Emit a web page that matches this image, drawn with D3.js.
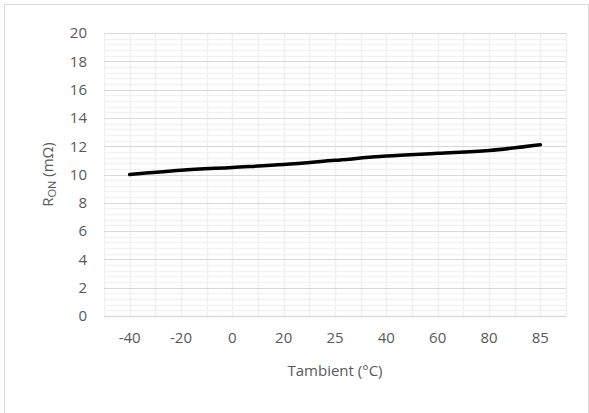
<!DOCTYPE html>
<html>
<head>
<meta charset="utf-8">
<script src="https://cdn.jsdelivr.net/npm/d3@7"></script>
<style>
  body { margin: 0; background: #fff; }
  text { font-family: "Open Sans", sans-serif; fill: #595959; }
</style>
</head>
<body>
<div class="chart"></div>
<script>
var svgWidth = 589;
var svgHeight = 413;

// data
var temps = ["-40", "-20", "0", "20", "25", "40", "60", "80", "85"];
var ron = [10.0, 10.3, 10.5, 10.7, 11.0, 11.3, 11.5, 11.7, 12.1];
var yTicks = [0, 2, 4, 6, 8, 10, 12, 14, 16, 18, 20];

var margin = { top: 33, right: 23, bottom: 97, left: 104 };
var width = svgWidth - margin.left - margin.right;
var height = svgHeight - margin.top - margin.bottom;

var svg = d3.select(".chart")
    .append("svg")
    .attr("width", svgWidth)
    .attr("height", svgHeight);

// outer chart border
svg.append("rect")
    .attr("x", 4.5).attr("y", 4.5)
    .attr("width", 584).attr("height", 430)
    .attr("fill", "none")
    .attr("stroke", "#d9d9d9");

var chartGroup = svg.append("g")
    .attr("transform", `translate(${margin.left}, ${margin.top})`);

var xScale = d3.scaleBand().domain(temps).range([0, width]);
var yScale = d3.scaleLinear().domain([0, 20]).range([height, 0]);

// minor horizontal gridlines (every 0.4)
var minorY = d3.range(0, 20.01, 0.4).filter(v => Math.abs(v / 2 - Math.round(v / 2)) > 0.01);
chartGroup.selectAll(".minor-y")
    .data(minorY)
    .join("line")
    .attr("x1", 0).attr("x2", width)
    .attr("y1", d => Math.round(yScale(d)) + 0.5)
    .attr("y2", d => Math.round(yScale(d)) + 0.5)
    .attr("stroke", "#f2f2f2").attr("stroke-width", 1.5);

// vertical gridlines at category edges and centers
var vLines = [];
temps.forEach(t => { vLines.push(xScale(t)); vLines.push(xScale(t) + xScale.bandwidth() / 2); });
vLines.push(width);
chartGroup.selectAll(".grid-x")
    .data(vLines)
    .join("line")
    .attr("x1", d => Math.round(d) + 0.5).attr("x2", d => Math.round(d) + 0.5)
    .attr("y1", 0).attr("y2", height)
    .attr("stroke", "#f0f0f0").attr("stroke-width", 1.5);

// major horizontal gridlines
chartGroup.selectAll(".major-y")
    .data(yTicks)
    .join("line")
    .attr("x1", 0).attr("x2", width)
    .attr("y1", d => Math.round(yScale(d)) + 0.5)
    .attr("y2", d => Math.round(yScale(d)) + 0.5)
    .attr("stroke", "#d9d9d9").attr("stroke-width", 1.2);

// y axis labels
var leftAxis = d3.axisLeft(yScale).tickValues(yTicks).tickSize(0).tickPadding(17);
var yAxis = chartGroup.append("g").call(leftAxis);
yAxis.select(".domain").remove();
yAxis.selectAll("text").attr("font-size", "15px").attr("fill", "#595959");

// x axis labels
var bottomAxis = d3.axisBottom(xScale).tickSize(0).tickPadding(16);
var xAxis = chartGroup.append("g")
    .attr("transform", `translate(0,${height})`)
    .call(bottomAxis);
xAxis.select(".domain").attr("stroke", "#d9d9d9").attr("stroke-width", 1.5);
xAxis.selectAll("text").attr("font-size", "15px").attr("fill", "#595959");

// the line
var line = d3.line()
    .x((d, i) => xScale(temps[i]) + xScale.bandwidth() / 2)
    .y(d => yScale(d))
    .curve(d3.curveMonotoneX);

chartGroup.append("path")
    .datum(ron)
    .attr("d", line)
    .attr("fill", "none")
    .attr("stroke", "#000")
    .attr("stroke-width", 3.5)
    .attr("stroke-linecap", "round");

// axis titles
chartGroup.append("text")
    .attr("x", width / 2)
    .attr("y", height + 60)
    .attr("text-anchor", "middle")
    .attr("font-size", "15px")
    .text("Tambient (°C)");

var yTitle = chartGroup.append("text")
    .attr("transform", "rotate(-90)")
    .attr("x", -height / 2)
    .attr("y", -51)
    .attr("text-anchor", "middle")
    .attr("font-size", "15px");
yTitle.append("tspan").text("R");
yTitle.append("tspan").attr("font-size", "11px").attr("dy", 3).text("ON");
yTitle.append("tspan").attr("dy", -3).text(" (mΩ)");
</script>
</body>
</html>
